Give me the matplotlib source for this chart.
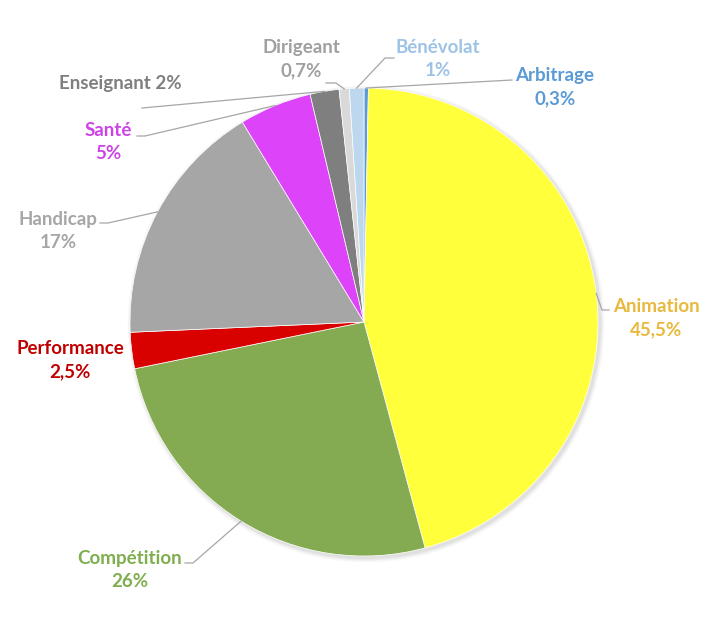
import numpy as np
import matplotlib.pyplot as plt
from matplotlib.patches import Circle

# Daten
labels = ["Arbitrage", "Animation", "Compétition", "Performance", "Handicap",
          "Santé", "Enseignant", "Dirigeant", "Bénévolat"]
values = [0.3, 45.5, 26, 2.5, 17, 5, 2, 0.7, 1]
pct_text = ["0,3%", "45,5%", "26%", "2,5%", "17%", "5%", "2%", "0,7%", "1%"]

slice_colors = ["#5B9BD5", "#FFFF3C", "#84AB52", "#D90000", "#A6A6A6",
                "#DD44FA", "#7F7F7F", "#D9D9D9", "#BDD7EE"]
text_colors = ["#5B9BD5", "#E8B93C", "#7FAE4F", "#C00000", "#A6A6A6",
               "#CC44E6", "#7F7F7F", "#A0A0A0", "#9DC3E6"]

W, H = 723, 620
cx, cy, R = 364, H - 322, 234

# label layout in pixel coords (y from top): text pos, stub end, elbow
label_pos = {
    "Arbitrage": ((555, 87), (512, 80), None),
    "Animation": ((656, 318), (609, 310), (602, 310)),
    "Compétition": ((130, 570), (185, 563), (193, 563)),
    "Performance": ((70, 360), None, None),
    "Handicap": ((58, 231), (100, 223), (108, 223)),
    "Santé": ((108, 142), (137, 136), (145, 136)),
    "Enseignant": ((120, 84), (142, 108), None),
    "Dirigeant": ((301, 59), (326, 83), (336, 83)),
    "Bénévolat": ((438, 59), (394, 58), (385, 58)),
}

fig = plt.figure(figsize=(7.23, 6.2), dpi=100)
ax = fig.add_axes([0, 0, 1, 1])
ax.set_xlim(0, W)
ax.set_ylim(0, H)
ax.set_aspect('equal')
ax.axis('off')

# leichter Schatten
for k, a in zip(range(6, 0, -1), [0.02, 0.03, 0.04, 0.05, 0.06, 0.07]):
    ax.add_patch(Circle((cx + 2, cy - 2), R + k * 0.8, color='#888888', alpha=a, lw=0, zorder=1))

wedges, _ = ax.pie(values, colors=slice_colors, startangle=90, counterclock=False,
                   center=(cx, cy), radius=R, frame=True,
                   wedgeprops=dict(edgecolor='white', linewidth=0.5, zorder=2))
ax.set_xlim(0, W)
ax.set_ylim(0, H)
ax.axis('off')

for i, w in enumerate(wedges):
    name = labels[i]
    (tx, ty), end, elbow = label_pos[name]
    if name == "Enseignant":
        txt = name + " " + pct_text[i]
    else:
        txt = name + "\n" + pct_text[i]
    ax.text(tx, H - ty, txt, ha='center', va='center', fontsize=13.5,
            fontweight='bold', family='Lato', color=text_colors[i],
            linespacing=1.45, zorder=5)
    if end is not None:
        ang = np.deg2rad((w.theta1 + w.theta2) / 2)
        px, py = cx + R * np.cos(ang), cy + R * np.sin(ang)
        xs, ys = [px], [py]
        if elbow is not None:
            xs.append(elbow[0]); ys.append(H - elbow[1])
        xs.append(end[0]); ys.append(H - end[1])
        ax.plot(xs, ys, color='#A6A6A6', lw=0.9, zorder=4)

plt.savefig("out.png", dpi=100)
